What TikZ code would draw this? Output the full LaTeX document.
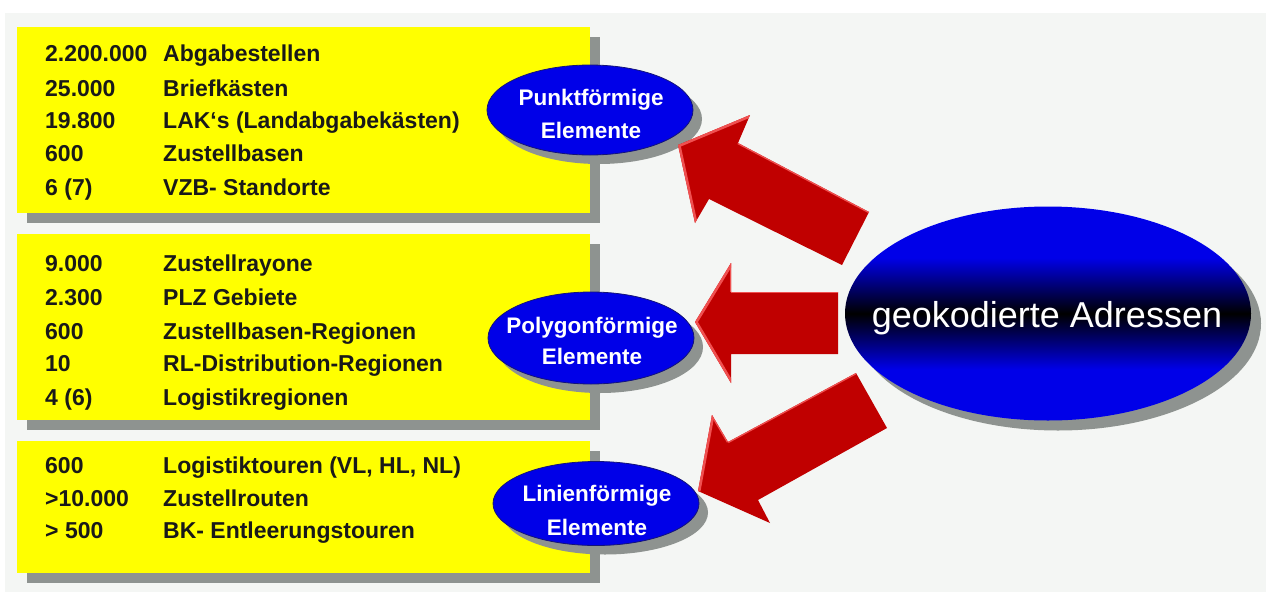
\documentclass[tikz,border=0pt]{standalone}
\usepackage{fontspec}
\setmainfont{Liberation Sans}
\usetikzlibrary{shapes.geometric,shadows}
\definecolor{bgc}{RGB}{244,246,244}
\definecolor{boxy}{RGB}{255,255,0}
\definecolor{shad}{RGB}{142,147,144}
\definecolor{eblue}{RGB}{0,0,232}
\definecolor{eborder}{RGB}{20,20,120}
\definecolor{ared}{RGB}{192,0,0}
\definecolor{alight}{RGB}{240,80,80}
\definecolor{txt}{RGB}{25,25,25}
\pgfdeclareverticalshading{geoshade}{100bp}{color(0bp)=(eblue); color(37bp)=(eblue); color(50bp)=(black); color(63bp)=(eblue); color(100bp)=(eblue)}
\begin{document}
\begin{tikzpicture}[x=1pt,y=-1pt,
  ybox/.style={rectangle, fill=boxy, inner sep=0pt, minimum width=573pt,
    general shadow={shadow xshift=10pt, shadow yshift=-10pt, fill=shad}},
  numtxt/.style={anchor=base west, inner sep=0pt, text=txt,
    font=\bfseries\fontsize{23}{27}\selectfont},
  smallell/.style={ellipse, fill=eblue, draw=eborder, line width=0.8pt, inner sep=0pt,
    minimum width=206pt, minimum height=90pt,
    general shadow={shadow xshift=9pt, shadow yshift=-9pt, fill=shad}},
  elltxt/.style={anchor=base, inner sep=0pt, text=white,
    font=\bfseries\fontsize{22.5}{27}\selectfont},
  bevel/.style={alight, line width=5pt},
  bevelthin/.style={alight, line width=2.5pt}]
\useasboundingbox (0,0) rectangle (1266,592);
\fill[white] (0,0) rectangle (1266,592);
\fill[bgc] (5,13) rectangle (1266,592);

% boxes
\node[ybox, minimum height=186pt] (box1) at (303.5,120) {};
\node[ybox, minimum height=186pt] (box2) at (303.5,327) {};
\node[ybox, minimum height=132pt] (box3) at (303.5,507) {};

% box 1 rows
\node[numtxt] (n11) at (45,61)  {2.200.000};
\node[numtxt] (t11) at (163,61) {Abgabestellen};
\node[numtxt] (n12) at (45,96)  {25.000};
\node[numtxt] (t12) at (163,96) {Briefkästen};
\node[numtxt] (n13) at (45,128) {19.800};
\node[numtxt] (t13) at (163,128) {LAK‘s (Landabgabekästen)};
\node[numtxt] (n14) at (45,161) {600};
\node[numtxt] (t14) at (163,161) {Zustellbasen};
\node[numtxt] (n15) at (45,195) {6 (7)};
\node[numtxt] (t15) at (163,195) {VZB- Standorte};

% box 2 rows
\node[numtxt] (n21) at (45,271) {9.000};
\node[numtxt] (t21) at (163,271) {Zustellrayone};
\node[numtxt] (n22) at (45,305) {2.300};
\node[numtxt] (t22) at (163,305) {PLZ Gebiete};
\node[numtxt] (n23) at (45,339) {600};
\node[numtxt] (t23) at (163,339) {Zustellbasen-Regionen};
\node[numtxt] (n24) at (45,371) {10};
\node[numtxt] (t24) at (163,371) {RL-Distribution-Regionen};
\node[numtxt] (n25) at (45,405) {4 (6)};
\node[numtxt] (t25) at (163,405) {Logistikregionen};

% box 3 rows
\node[numtxt] (n31) at (45,473) {600};
\node[numtxt] (t31) at (163,473) {Logistiktouren (VL, HL, NL)};
\node[numtxt] (n32) at (45,506) {>10.000};
\node[numtxt] (t32) at (163,506) {Zustellrouten};
\node[numtxt] (n33) at (45,538) {> 500};
\node[numtxt] (t33) at (163,538) {BK- Entleerungstouren};

% small ellipses
\node[smallell] (punkt) at (590,110) {};
\node[elltxt] (punktA) at (591,105) {Punktförmige};
\node[elltxt] (punktB) at (591,138) {Elemente};
\node[smallell, minimum height=92pt] (poly) at (591,338) {};
\node[elltxt] (polyA) at (592,333) {Polygonförmige};
\node[elltxt] (polyB) at (592,364) {Elemente};
\node[smallell, minimum width=206pt, minimum height=84pt] (linie) at (596,503.5) {};
\node[elltxt] (linieA) at (597,501) {Linienförmige};
\node[elltxt] (linieB) at (597,535) {Elemente};

% big ellipse
\fill[shad] (1058,323.5) ellipse [x radius=203, y radius=107];
\shade[shading=geoshade] (1048,313.5) ellipse [x radius=203, y radius=107];
\node[anchor=base, inner sep=0pt, text=white, font=\fontsize{36}{40}\selectfont]
  (geo) at (1047,327) {geokodierte Adressen};

% arrow 1
\coordinate (a1t) at (678,145);
\coordinate (a1h) at (750,115);
\coordinate (a1j) at (738,143);
\coordinate (a1e) at (869,212);
\coordinate (a1f) at (842,265);
\coordinate (a1k) at (709,199);
\coordinate (a1b) at (695,223);
\begin{scope}
\clip (a1t) -- (a1h) -- (a1j) -- (a1e) -- (a1f) -- (a1k) -- (a1b) -- cycle;
\fill[ared] (650,100) rectangle (900,280);
\draw[bevel] (a1t) -- (a1h);
\draw[bevel] (a1t) -- (a1b);
\draw[bevelthin] (a1j) -- (a1e);
\end{scope}

% arrow 2
\coordinate (a2t) at (695,322);
\coordinate (a2h) at (731,263);
\coordinate (a2j) at (731,292);
\coordinate (a2e) at (838,292);
\coordinate (a2f) at (838,354);
\coordinate (a2k) at (731,354);
\coordinate (a2b) at (731,383);
\begin{scope}
\clip (a2t) -- (a2h) -- (a2j) -- (a2e) -- (a2f) -- (a2k) -- (a2b) -- cycle;
\fill[ared] (680,250) rectangle (850,390);
\draw[bevel] (a2t) -- (a2h);
\draw[bevel] (a2t) -- (a2b);
\draw[bevelthin] (a2h) -- (a2j);
\draw[bevelthin] (a2j) -- (a2e);
\end{scope}

% arrow 3
\coordinate (a3t) at (698,491);
\coordinate (a3h) at (712,415);
\coordinate (a3j) at (728,442);
\coordinate (a3e) at (856,373);
\coordinate (a3f) at (887,428);
\coordinate (a3k) at (758,500);
\coordinate (a3b) at (770,523);
\begin{scope}
\clip (a3t) -- (a3h) -- (a3j) -- (a3e) -- (a3f) -- (a3k) -- (a3b) -- cycle;
\fill[ared] (680,360) rectangle (900,540);
\draw[bevel] (a3t) -- (a3h);
\draw[bevelthin] (a3h) -- (a3j);
\draw[bevelthin] (a3j) -- (a3e);
\end{scope}
\end{tikzpicture}
\end{document}
